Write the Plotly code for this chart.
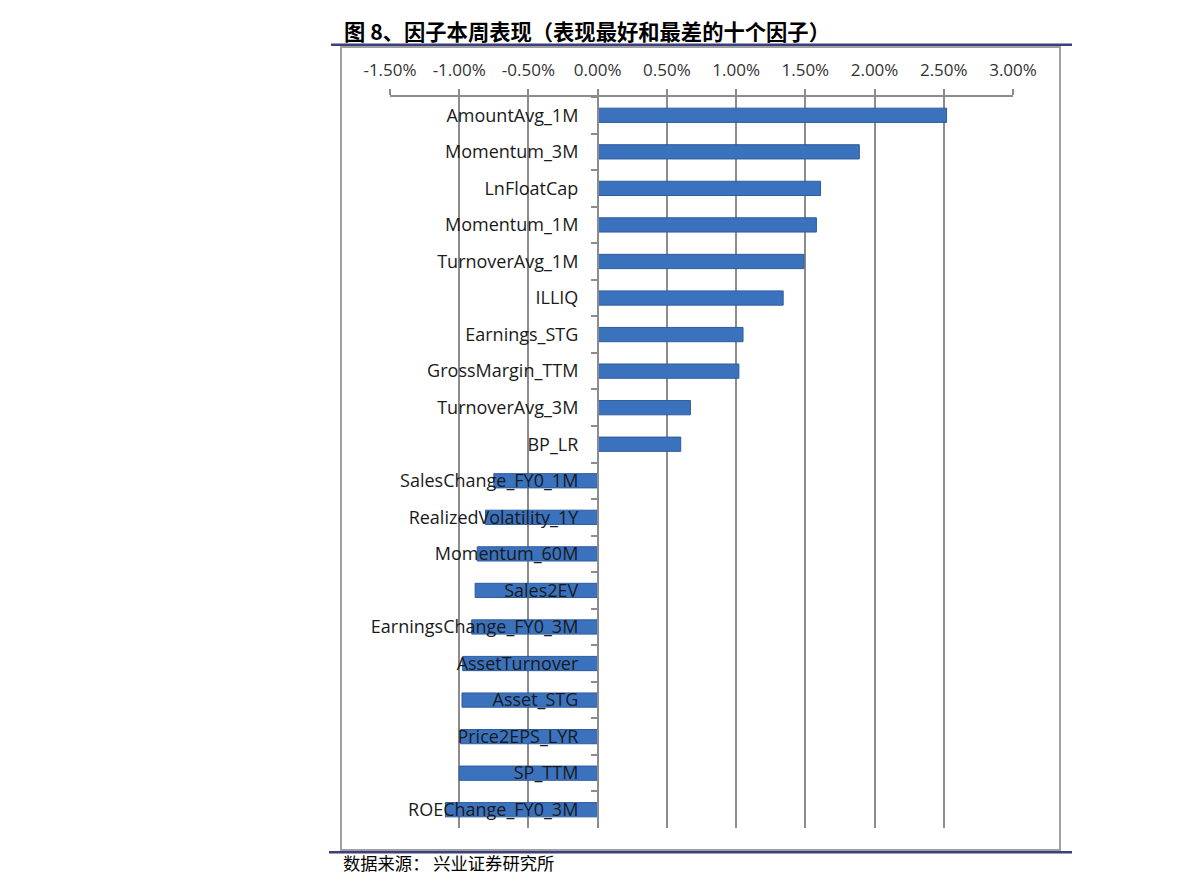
import plotly.graph_objects as go

factors = ["AmountAvg_1M", "Momentum_3M", "LnFloatCap", "Momentum_1M", "TurnoverAvg_1M",
           "ILLIQ", "Earnings_STG", "GrossMargin_TTM", "TurnoverAvg_3M", "BP_LR",
           "SalesChange_FY0_1M", "RealizedVolatility_1Y", "Momentum_60M", "Sales2EV",
           "EarningsChange_FY0_3M", "AssetTurnover", "Asset_STG", "Price2EPS_LYR",
           "SP_TTM", "ROEChange_FY0_3M"]
returns_pct = [2.52, 1.89, 1.61, 1.58, 1.49, 1.34, 1.05, 1.02, 0.67, 0.60,
               -0.75, -0.81, -0.87, -0.885, -0.91, -0.975, -0.98, -0.99, -1.00, -1.10]
tick_vals = [-1.5, -1.0, -0.5, 0.0, 0.5, 1.0, 1.5, 2.0, 2.5, 3.0]
tick_text = ["-1.50%", "-1.00%", "-0.50%", "0.00%", "0.50%", "1.00%", "1.50%", "2.00%", "2.50%", "3.00%"]
title_text = "图 8、因子本周表现（表现最好和最差的十个因子）"
source_text = "数据来源： 兴业证券研究所"

W, H = 1191, 893
OFF = 8  # default body margin of the html page
L, R, T, B = 390, 1013, 97, 828  # plot area in page pixels

def px(x):
    return (x - L) / (R - L)

def py(y):
    return (B - y) / (B - T)

fig = go.Figure()
fig.add_trace(go.Bar(
    x=returns_pct, y=factors, orientation="h",
    width=0.39,
    marker=dict(color="#3B72BE", line=dict(color="#2E5C9C", width=1)),
    hoverinfo="x+y",
))

fig.update_layout(
    width=W - OFF, height=H - OFF,
    margin=dict(l=L - OFF, r=W - R, t=T - OFF, b=H - B, pad=0),
    paper_bgcolor="white", plot_bgcolor="white",
    showlegend=False,
    font=dict(family="Open Sans, Liberation Sans, sans-serif", color="#1a1a1a"),
    xaxis=dict(
        side="top", range=[-1.5, 3.0], tickvals=tick_vals, ticktext=tick_text,
        showgrid=True, gridcolor="#8C8C8C", gridwidth=1.5,
        showline=True, linecolor="#8C8C8C", linewidth=1.5,
        ticks="outside", ticklen=6, tickcolor="#8C8C8C", tickwidth=1.5,
        ticklabelstandoff=6,
        tickfont=dict(size=17, color="#333333"),
        zeroline=False, fixedrange=True,
    ),
    yaxis=dict(
        type="category", autorange="reversed",
        anchor="free", position=px(597.7),
        showline=True, linecolor="#8C8C8C", linewidth=1.5,
        ticks="outside", ticklen=6, tickcolor="#8C8C8C", tickwidth=1.5,
        tickson="boundaries",
        ticklabelstandoff=15,
        showgrid=False, zeroline=False,
        tickfont=dict(size=18, color="#1a1a1a"),
        fixedrange=True,
    ),
    shapes=[
        dict(type="rect", xref="paper", yref="paper",
             x0=px(341), x1=px(1060), y0=py(850), y1=py(47),
             line=dict(color="#A0A0A0", width=2), layer="below"),
        dict(type="line", xref="paper", yref="paper",
             x0=px(331), x1=px(1072), y0=py(44.7), y1=py(44.7),
             line=dict(color="#3B3F7A", width=2.5)),
        dict(type="line", xref="paper", yref="paper",
             x0=px(329), x1=px(1072), y0=py(852.3), y1=py(852.3),
             line=dict(color="#3B3F7A", width=2.5)),
    ],
    annotations=[
        dict(text="<b>" + title_text + "</b>", xref="paper", yref="paper",
             x=px(342), y=py(30), xanchor="left", yanchor="middle", showarrow=False,
             font=dict(family="Noto Sans CJK SC", size=21.3, color="#000000")),
        dict(text=source_text, xref="paper", yref="paper",
             x=px(341), y=py(863), xanchor="left", yanchor="middle", showarrow=False,
             font=dict(family="Noto Sans CJK SC", size=17.3, color="#000000")),
    ],
)

fig.write_html("out.html")
